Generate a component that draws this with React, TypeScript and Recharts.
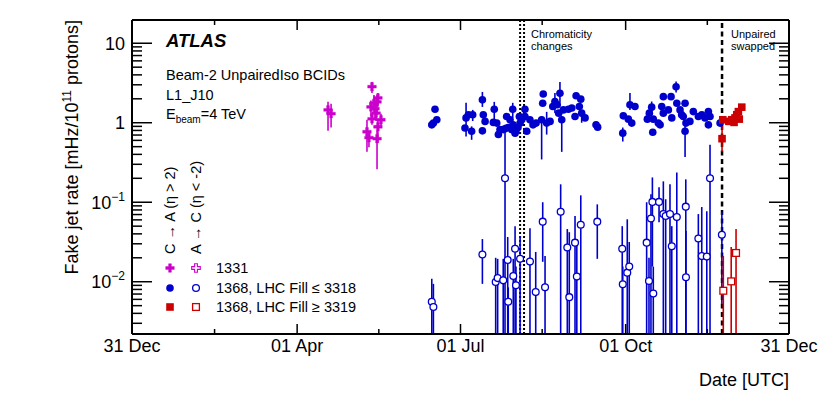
import { ScatterChart, Scatter, XAxis, YAxis, ErrorBar, ReferenceLine } from 'recharts';

// [day since 31 Dec 2011, rate, low end of bar, high end of bar]
type Pt = [number, number, number?, number?];

const FONT = '"Liberation Sans", Arial, Helvetica, sans-serif';
const BLUE = '#0000cc';
const MAGENTA = '#cc00cc';
const RED = '#cc0000';

const W = 830;
const H = 397;
const PLOT_LEFT = 132;
const PLOT_RIGHT = 789;
const PLOT_TOP = 20;
const PLOT_BOTTOM = 334;

const X_DOMAIN: [number, number] = [0, 366];
const Y_DOMAIN: [number, number] = [0.0022, 19.6];

// run 1331, C -> A
const run1331: Pt[] = [
  [109.2, 1.45, 0.79, 1.83], [110.9, 1.3, 0.87, 1.73], [130.9, 0.77, 0.43, 1.09],
  [132.0, 0.65, 0.49, 0.77], [133.1, 1.58, 1.2, 1.9], [133.7, 2.84, 2.37, 3.25],
  [133.7, 1.12, 0.94, 1.33], [134.8, 1.76, 1.37, 2.24], [135.4, 1.5, 1.1, 1.9],
  [136.0, 1.32, 1.05, 1.6], [136.5, 1.83, 1.26, 2.24], [136.5, 0.63, 0.26, 0.8],
  [137.0, 2.05, 1.6, 2.37], [137.0, 0.89, 0.56, 1.1], [138.7, 1.09, 0.9, 1.3],
];

// run 1368, LHC fill <= 3318, C -> A
const earlyCA: Pt[] = [
  [167.0, 0.94], [167.9, 0.99], [168.8, 1.48], [169.8, 1.09],
  [185.5, 0.86], [186.1, 1.15, 0.67, 1.78], [187.4, 1.26], [189.2, 0.78, 0.61, 0.9], [189.8, 1.26, 1.05, 1.45],
  [195.2, 1.94, 1.58, 2.44], [195.7, 1.26], [196.7, 1.04], [195.2, 0.79],
  [201.3, 1.01], [201.8, 1.48, 1.03, 1.83], [203.2, 0.99], [204.1, 0.71], [205.0, 0.82], [206.8, 0.82],
  [207.8, 0.84], [208.7, 1.2], [209.5, 0.87], [210.6, 1.09], [211.5, 0.82], [212.1, 1.48, 1.15, 1.78],
  [212.3, 0.94], [213.4, 0.74], [213.9, 0.79],
  [215.0, 0.87], [215.8, 1.2], [216.2, 0.99], [217.1, 1.09], [218.9, 1.48], [218.9, 1.2], [219.9, 0.78],
  [221.7, 1.09], [223.4, 0.94], [225.1, 0.99],
  [228.2, 1.09, 0.345, 1.2], [228.8, 1.76], [229.1, 2.3], [231.0, 0.99, 0.71, 1.37], [232.9, 1.04],
  [234.4, 1.6], [235.6, 1.85, 1.33, 2.37], [236.9, 1.68], [237.7, 1.32], [238.4, 2.35, 1.78, 3.25],
  [239.4, 1.09, 0.43, 1.2], [240.3, 1.45],
  [243.1, 1.48], [245.0, 1.53], [246.8, 1.2], [247.4, 2.18], [249.2, 1.6], [250.0, 1.98],
  [250.5, 1.32, 1.0, 1.45], [252.4, 1.15], [258.5, 0.94], [259.4, 0.88],
  [273.4, 0.74, 0.58, 0.87], [273.7, 1.22], [276.5, 1.11], [277.4, 1.68, 1.45, 2.37], [278.4, 0.99], [280.2, 1.6],
  [287.1, 1.11], [288.2, 1.32], [289.5, 1.57, 1.25, 1.85], [290.1, 0.76], [290.4, 1.11], [293.2, 0.99],
  [294.2, 0.94], [295.1, 1.6], [296.0, 2.13], [296.0, 1.32], [298.8, 1.45],
  [300.3, 2.13], [300.7, 1.15], [303.1, 2.84, 2.4, 3.3], [303.5, 1.76], [305.3, 1.45], [306.2, 1.26],
  [307.1, 1.2], [308.1, 1.76], [308.1, 0.78, 0.37, 1.09], [308.6, 0.99],
  [310.8, 1.04], [312.7, 1.38], [315.5, 1.2], [317.4, 1.26], [319.2, 1.15], [321.1, 1.38], [321.1, 0.94],
  [322.0, 1.2], [327.6, 0.99],
];

// run 1368, LHC fill <= 3318, A -> C (0.001 = bar runs off the bottom)
const earlyAC: Pt[] = [
  [167.0, 0.0056, 0.001, 0.0109], [167.9, 0.0048, 0.001, 0.0094], [195.2, 0.022, 0.0094, 0.0344],
  [202.6, 0.0099, 0.001, 0.02], [203.7, 0.0111, 0.001, 0.0194], [206.8, 0.0104, 0.001, 0.0194],
  [207.8, 0.2, 0.001, 0.94], [209.3, 0.0188, 0.001, 0.0365], [209.6, 0.0056, 0.001, 0.0085],
  [212.4, 0.0118, 0.001, 0.0194], [213.4, 0.026, 0.001, 0.05], [213.9, 0.009, 0.001, 0.0155],
  [216.2, 0.0194, 0.001, 0.0375], [221.7, 0.0179, 0.001, 0.047], [224.9, 0.0074, 0.001, 0.0237],
  [228.8, 0.057, 0.0178, 0.1], [230.1, 0.0085, 0.001, 0.0211], [238.8, 0.076, 0.001, 0.168],
  [242.5, 0.027, 0.001, 0.046], [243.6, 0.0064, 0.001, 0.042], [246.8, 0.031, 0.001, 0.067],
  [247.8, 0.0116, 0.001, 0.0344], [250.0, 0.052, 0.001, 0.122], [259.2, 0.057, 0.0194, 0.094],
  [273.1, 0.026, 0.001, 0.05], [273.4, 0.0093, 0.001, 0.0155], [275.9, 0.013, 0.001, 0.061],
  [277.0, 0.0155, 0.001, 0.0316], [286.7, 0.031, 0.001, 0.1], [288.0, 0.0102, 0.001, 0.02],
  [289.1, 0.0625, 0.001, 0.126], [289.9, 0.101, 0.0155, 0.205], [290.4, 0.0071, 0.001, 0.0155],
  [293.6, 0.101, 0.056, 0.154], [296.0, 0.071, 0.001, 0.183], [297.3, 0.067, 0.001, 0.109],
  [299.7, 0.071, 0.001, 0.168], [300.7, 0.028, 0.001, 0.05], [303.5, 0.065, 0.001, 0.237],
  [308.5, 0.088, 0.001, 0.194], [308.6, 0.0114, 0.001, 0.0435], [315.5, 0.035, 0.001, 0.071],
  [317.4, 0.021, 0.001, 0.087], [320.2, 0.0207, 0.001, 0.077], [322.0, 0.2, 0.001, 0.53],
  [328.6, 0.039, 0.0053, 0.075],
];

// run 1368, LHC fill >= 3319
const lateCA: Pt[] = [
  [328.7, 0.63, 0.43, 0.94], [329.1, 1.09], [332.5, 1.04], [334.1, 1.09], [335.4, 1.01],
  [335.9, 1.15], [336.9, 1.26], [337.8, 1.38], [338.3, 1.11], [339.7, 1.57],
];
const lateAC: Pt[] = [
  [329.4, 0.0077, 0.001, 0.0211], [333.8, 0.0101, 0.001, 0.0274], [336.5, 0.023, 0.001, 0.046],
];

const xTicks = [0, 46, 92, 137.5, 183, 228.5, 275, 320.5, 366];
const xTickLabels: Record<string, string> = {
  '0': '31 Dec', '92': '01 Apr', '183': '01 Jul', '275': '01 Oct', '366': '31 Dec',
};
const yTicks = [
  0.003, 0.004, 0.005, 0.006, 0.007, 0.008, 0.009,
  0.01, 0.02, 0.03, 0.04, 0.05, 0.06, 0.07, 0.08, 0.09,
  0.1, 0.2, 0.3, 0.4, 0.5, 0.6, 0.7, 0.8, 0.9,
  1, 2, 3, 4, 5, 6, 7, 8, 9, 10,
];
const yTickLabels: Record<string, [string, string]> = {
  '0.01': ['10', '\u22122'], '0.1': ['10', '\u22121'], '1': ['1', ''], '10': ['10', ''],
};
const chromaticityDays = [216.2, 218.4];
const swapDay = 328.7;

// bars that run off the bottom are cut at the frame
const rows = (pts: Pt[]) =>
  pts.map(([d, r, lo, hi]) => ({
    d,
    r,
    err: lo == null || hi == null ? [0, 0] : [r - Math.max(lo, Y_DOMAIN[0]), hi - r],
  }));

const crossPath = (cx: number, cy: number) => {
  const a = 4.3;
  const b = 1.4;
  return `M${cx - b},${cy - a}H${cx + b}V${cy - b}H${cx + a}V${cy + b}H${cx + b}V${cy + a}H${cx - b}V${cy + b}H${cx - a}V${cy - b}H${cx - b}Z`;
};

const marker = (kind: 'cross' | 'circle' | 'square', color: string, open: boolean) =>
  (p: any) => {
    const { cx, cy } = p;
    if (cx == null || cy == null) return <g />;
    if (kind === 'cross') {
      return <path d={crossPath(cx, cy)} fill={open ? '#fff' : color} stroke={color} strokeWidth={open ? 1.1 : 0.4} />;
    }
    if (kind === 'circle') {
      return open
        ? <circle cx={cx} cy={cy} r={3.4} fill="#fff" stroke={color} strokeWidth={1.3} />
        : <circle cx={cx} cy={cy} r={3.8} fill={color} />;
    }
    return open
      ? <rect x={cx - 3.4} y={cy - 3.4} width={6.8} height={6.8} fill="#fff" stroke={color} strokeWidth={1.3} />
      : <rect x={cx - 3.8} y={cy - 3.8} width={7.6} height={7.6} fill={color} />;
  };

const XTick = (props: any) => {
  const { x, payload } = props;
  const label = xTickLabels[String(payload.value)];
  const len = label ? 10 : 5;
  return (
    <g>
      <line x1={x} x2={x} y1={PLOT_BOTTOM} y2={PLOT_BOTTOM - len} stroke="#000" strokeWidth={1.5} />
      <line x1={x} x2={x} y1={PLOT_TOP} y2={PLOT_TOP + len} stroke="#000" strokeWidth={1.5} />
      {label && (
        <text x={x} y={352} textAnchor="middle" fontSize={18} fontFamily={FONT} fill="#000">{label}</text>
      )}
    </g>
  );
};

const YTick = (props: any) => {
  const { y, payload } = props;
  const label = yTickLabels[String(payload.value)];
  const len = label ? 20 : 10;
  return (
    <g>
      <line x1={PLOT_LEFT} x2={PLOT_LEFT + len} y1={y} y2={y} stroke="#000" strokeWidth={1.5} />
      <line x1={PLOT_RIGHT - len} x2={PLOT_RIGHT} y1={y} y2={y} stroke="#000" strokeWidth={1.5} />
      {label && (
        <text x={125} y={y} dy="0.36em" textAnchor="end" fontSize={18} fontFamily={FONT} fill="#000">
          {label[0]}
          {label[1] && <tspan fontSize={12} dy={-8}>{label[1]}</tspan>}
        </text>
      )}
    </g>
  );
};

export default function App() {
  const txt = { fontFamily: FONT, fill: '#000' };
  return (
    <div style={{ position: 'absolute', left: 0, top: 0, width: W, height: H, background: '#fff' }}>
      <ScatterChart width={W} height={H} margin={{ top: PLOT_TOP, right: W - PLOT_RIGHT, bottom: 0, left: 0 }}>
        <XAxis
          type="number" dataKey="d" domain={X_DOMAIN} allowDataOverflow ticks={xTicks} interval={0}
          tick={XTick} tickLine={false} axisLine={{ stroke: '#000', strokeWidth: 2 }} height={H - PLOT_BOTTOM}
        />
        <YAxis
          type="number" dataKey="r" scale="log" domain={Y_DOMAIN} allowDataOverflow ticks={yTicks} interval={0}
          tick={YTick} tickLine={false} axisLine={{ stroke: '#000', strokeWidth: 2 }} width={PLOT_LEFT}
        />
        <ReferenceLine y={Y_DOMAIN[1]} stroke="#000" strokeWidth={2} ifOverflow="visible" />
        <ReferenceLine x={X_DOMAIN[1]} stroke="#000" strokeWidth={2} ifOverflow="visible" />
        {chromaticityDays.map((d) => (
          <ReferenceLine key={d} x={d} stroke="#000" strokeWidth={2} strokeDasharray="2 2" />
        ))}
        <ReferenceLine x={swapDay} stroke="#000" strokeWidth={2.5} strokeDasharray="5 3.5" />

        <Scatter data={rows(earlyAC)} shape={marker('circle', BLUE, true)} isAnimationActive={false}>
          <ErrorBar dataKey="err" direction="y" width={0} stroke={BLUE} strokeWidth={1.6} />
        </Scatter>
        <Scatter data={rows(earlyCA)} shape={marker('circle', BLUE, false)} isAnimationActive={false}>
          <ErrorBar dataKey="err" direction="y" width={0} stroke={BLUE} strokeWidth={1.6} />
        </Scatter>
        <Scatter data={rows(run1331)} shape={marker('cross', MAGENTA, false)} isAnimationActive={false}>
          <ErrorBar dataKey="err" direction="y" width={0} stroke={MAGENTA} strokeWidth={1.6} />
        </Scatter>
        <Scatter data={rows(lateAC)} shape={marker('square', RED, true)} isAnimationActive={false}>
          <ErrorBar dataKey="err" direction="y" width={0} stroke={RED} strokeWidth={1.6} />
        </Scatter>
        <Scatter data={rows(lateCA)} shape={marker('square', RED, false)} isAnimationActive={false}>
          <ErrorBar dataKey="err" direction="y" width={0} stroke={RED} strokeWidth={1.6} />
        </Scatter>
      </ScatterChart>

      <svg width={W} height={H} style={{ position: 'absolute', left: 0, top: 0, pointerEvents: 'none' }}>
        <text x={78} y={PLOT_TOP} transform={`rotate(-90 78 ${PLOT_TOP})`} textAnchor="end" fontSize={18} {...txt}>
          Fake jet rate [mHz/10<tspan fontSize={12} dy={-7}>11</tspan><tspan dy={7}> protons]</tspan>
        </text>
        <text x={PLOT_RIGHT} y={386} textAnchor="end" fontSize={18} {...txt}>Date [UTC]</text>

        <text x={166} y={47} fontSize={18.5} fontWeight="bold" fontStyle="italic" {...txt}>ATLAS</text>
        <text x={166} y={80} fontSize={14.5} {...txt}>Beam-2 UnpairedIso BCIDs</text>
        <text x={166} y={99.5} fontSize={14.5} {...txt}>L1_J10</text>
        <text x={166} y={118.5} fontSize={14.5} {...txt}>
          E<tspan fontSize={10} dy={4}>beam</tspan><tspan dy={-4}>=4 TeV</tspan>
        </text>

        <text x={531} y={38} fontSize={11} {...txt}>Chromaticity</text>
        <text x={531} y={50} fontSize={11} {...txt}>changes</text>
        <text x={731} y={38} fontSize={11} {...txt}>Unpaired</text>
        <text x={731} y={50} fontSize={11} {...txt}>swapped</text>

        <text transform="translate(175 254) rotate(-90)" fontSize={14.5} {...txt}>{'C \u2192 A (\u03b7 > 2)'}</text>
        <text transform="translate(201 254) rotate(-90)" fontSize={14.5} {...txt}>{'A \u2192 C (\u03b7 < -2)'}</text>

        {marker('cross', MAGENTA, false)({ cx: 170, cy: 268 })}
        {marker('cross', MAGENTA, true)({ cx: 196, cy: 268 })}
        {marker('circle', BLUE, false)({ cx: 170, cy: 288 })}
        {marker('circle', BLUE, true)({ cx: 196, cy: 288 })}
        {marker('square', RED, false)({ cx: 170, cy: 307 })}
        {marker('square', RED, true)({ cx: 196, cy: 307 })}
        <text x={216} y={273} fontSize={14.5} {...txt}>1331</text>
        <text x={216} y={292.5} fontSize={14.5} {...txt}>{'1368, LHC Fill \u2264 3318'}</text>
        <text x={216} y={311.5} fontSize={14.5} {...txt}>{'1368, LHC Fill \u2265 3319'}</text>
      </svg>
    </div>
  );
}
